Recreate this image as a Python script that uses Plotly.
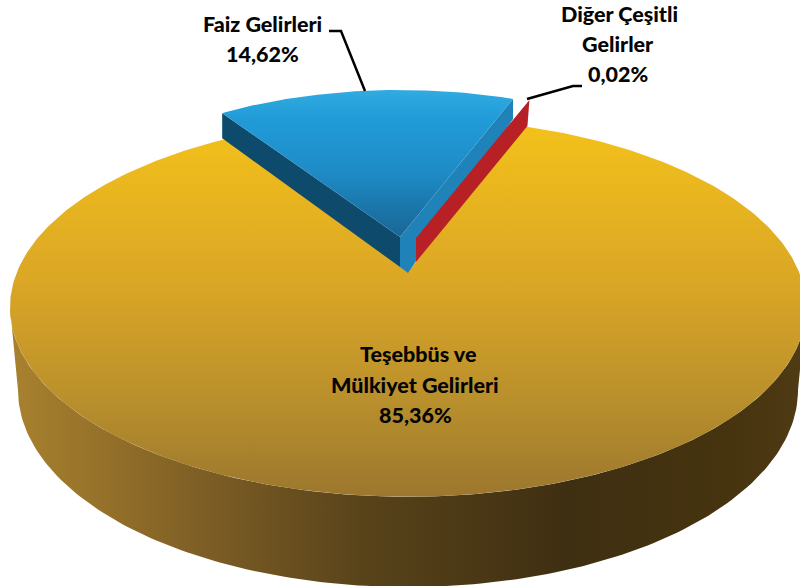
import numpy as np
import plotly.graph_objects as go

# ---- data ----
labels = ["Faiz Gelirleri", "Diğer Çeşitli Gelirler", "Teşebbüs ve Mülkiyet Gelirleri"]
values = [14.62, 0.02, 85.36]

# ---- geometry of the perspective pie ----
START = -32.6
fractions = np.array(values) / sum(values) * 360
edges = START + np.concatenate([[0], np.cumsum(fractions)])


def rim(theta, cx, cy, A, B, k):
    t = np.radians(theta)
    u, v = np.sin(t), -np.cos(t)
    w = 1 - k * v
    return cx + A * u / w, cy + B * v / w


MAIN = dict(cx=408, cy=272, A=391, B=182.7, k=0.187)
BLUE = dict(cx=400, cy=237, A=330, B=147, k=0.0)
RED = dict(cx=416, cy=238, A=330, B=147, k=0.0)

fig = go.Figure()


def poly(x, y, color=None, grad=None):
    kw = dict(x=list(x), y=list(y), mode="lines", fill="toself", hoverinfo="skip",
              line=dict(width=0), showlegend=False)
    if color:
        kw["fillcolor"] = color
    if grad:
        kw["fillgradient"] = grad
    fig.add_trace(go.Scatter(**kw))


# main slice wall
th = np.linspace(100.8, 259.2, 160)
tx, ty = rim(th, **MAIN)
al = np.linspace(np.pi, 0, 160)
bx, by = 408 + 390 * np.cos(al), 390 + 197 * np.sin(al)
wall_stops = [(0, "#a8822e"), (0.1, "#98732a"), (0.25, "#7c5d25"), (0.45, "#574219"),
              (0.7, "#3f2f12"), (0.9, "#46340f"), (1, "#4f3b14")]
poly(np.r_[tx, bx], np.r_[ty, by],
     grad=dict(type="horizontal", start=10, stop=806, colorscale=wall_stops))

# main slice top
th = np.linspace(edges[2], edges[3], 400)
x, y = rim(th, **MAIN)
yellow_stops = [(0, "#f4c21a"), (0.45, "#d9a526"), (0.75, "#b88f2c"), (1, "#9c772e")]
poly(np.r_[MAIN["cx"], x], np.r_[MAIN["cy"], y],
     grad=dict(type="vertical", start=120, stop=497, colorscale=yellow_stops))

# blue slice walls
lx, ly = rim(edges[0], **BLUE)
rx, ry = rim(edges[1], **BLUE)
poly([BLUE["cx"], lx, lx, BLUE["cx"]], [BLUE["cy"], ly, ly + 25, BLUE["cy"] + 30], "#0d4a6b")
poly([BLUE["cx"], rx, rx, BLUE["cx"] + 8, BLUE["cx"]],
     [BLUE["cy"], ry, ry + 20, BLUE["cy"] + 36, BLUE["cy"] + 30], "#1f83ba")

# blue slice top
th = np.linspace(edges[0], edges[1], 120)
x, y = rim(th, **BLUE)
blue_stops = [(0, "#30aae0"), (0.2, "#209bd8"), (0.55, "#1e8cc6"), (0.8, "#1a76aa"), (1, "#1a6795")]
poly(np.r_[BLUE["cx"], x], np.r_[BLUE["cy"], y],
     grad=dict(type="vertical", start=91, stop=237, colorscale=blue_stops))

# red sliver (only its wall can be seen)
qx, qy = rim(edges[2], **RED)
poly([RED["cx"], qx, qx - 2, RED["cx"]], [RED["cy"], qy, qy + 26, RED["cy"] + 24], "#b72025")

# leader lines
leaders = [([329, 341, 365], [31, 31, 91]), ([527, 573, 582], [99, 86, 86])]
for lxs, lys in leaders:
    fig.add_trace(go.Scatter(x=lxs, y=lys, mode="lines", hoverinfo="skip", showlegend=False,
                             line=dict(color="#000000", width=2.5)))


def pct(v):
    return f"{v:.2f}%".replace(".", ",")


text_lines = [
    (262, 24, "Faiz Gelirleri"), (262, 54, pct(values[0])),
    (619, 14, "Diğer Çeşitli"), (618, 44, "Gelirler"), (618, 74, pct(values[1])),
    (418, 354, "Teşebbüs ve"), (415, 385, "Mülkiyet Gelirleri"), (415, 415, pct(values[2])),
]
for tx_, ty_, s in text_lines:
    fig.add_annotation(x=tx_, y=ty_, text=s, showarrow=False, xanchor="center", yanchor="middle",
                       font=dict(family="Lato, Carlito, sans-serif", size=21.5, color="#050505", weight=900))

fig.update_layout(width=800, height=586, margin=dict(l=0, r=0, t=0, b=0), autosize=False,
                  paper_bgcolor="white", plot_bgcolor="white",
                  xaxis=dict(range=[0, 800], visible=False, fixedrange=True),
                  yaxis=dict(range=[586, 0], visible=False, fixedrange=True))
fig.write_html("out.html", config={"displayModeBar": False},
               post_script="document.body.style.margin='0';document.body.style.overflow='hidden';")
